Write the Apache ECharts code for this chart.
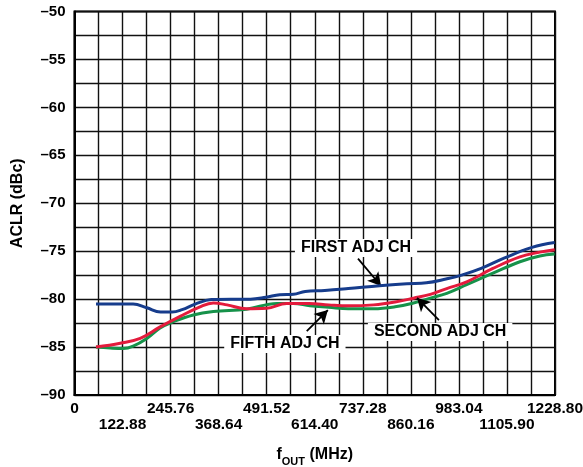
<!DOCTYPE html>
<html>
<head>
<meta charset="utf-8">
<style>html,body{margin:0;padding:0;background:#fff;}#c{width:583px;height:467px;}</style>
<script src="https://cdn.jsdelivr.net/npm/echarts@6/dist/echarts.min.js"></script>
</head>
<body>
<div id="c"></div>
<script>
// Tick labels
const xTickLabels = ['0','122.88','245.76','368.64','491.52','614.40','737.28','860.16','983.04','1105.90','1228.80'];
// Series values [fOUT MHz, ACLR dBc]
const firstAdj = [[55,-80.5],[100,-80.5],[150,-80.5],[185,-80.9],[220,-81.35],[250,-81.35],[275,-81.1],[310,-80.5],[350,-80.05],[400,-80.0],[450,-80.0],[490,-79.8],[525,-79.55],[560,-79.5],[590,-79.2],[640,-79.1],[700,-78.9],[780,-78.6],[850,-78.4],[900,-78.3],[950,-77.9],[990,-77.5],[1040,-76.8],[1100,-75.7],[1170,-74.6],[1228,-74.1]];
const secondAdj = [[55,-85.0],[117,-84.6],[168,-84.1],[219,-82.9],[270,-81.8],[321,-80.8],[355,-80.4],[390,-80.6],[440,-81.0],[491,-80.95],[543,-80.45],[600,-80.45],[650,-80.6],[700,-80.7],[765,-80.6],[820,-80.3],[867,-79.9],[910,-79.5],[952,-78.9],[1003,-78.2],[1070,-76.8],[1139,-75.6],[1190,-75.1],[1228,-74.85]];
const fifthAdj = [[55,-85.0],[91,-85.1],[125,-85.15],[150,-84.9],[185,-84.1],[219,-83.0],[253,-82.35],[304,-81.65],[355,-81.3],[440,-81.05],[518,-80.45],[559,-80.45],[602,-80.7],[650,-80.85],[700,-81.0],[765,-81.0],[820,-80.8],[867,-80.4],[910,-79.9],[952,-79.4],[1003,-78.5],[1070,-77.3],[1139,-76.1],[1190,-75.5],[1228,-75.3]];
// Annotation labels and arrows in data coordinates
const annoLabels = [
  {text:'FIRST ADJ CH', at:[720,-74.67]},
  {text:'SECOND ADJ CH', at:[935,-83.43]},
  {text:'FIFTH ADJ CH', at:[538,-84.68]}
];
const annoArrows = [
  [[725,-75.77],[784,-78.63]],
  [[932,-82.18],[876,-79.88]],
  [[594,-83.33],[648,-81.14]]
];

const FONT = '"Liberation Sans", Arial, Helvetica, sans-serif';
const chart = echarts.init(document.getElementById('c'), null, {renderer:'canvas'});
const step = 61.44;
chart.setOption({
  animation:false,
  backgroundColor:'#fff',
  grid:{left:74.5, top:11.5, right:28, bottom:72, show:true, borderColor:'#000', borderWidth:2, outerBoundsMode:'none', containLabel:false},
  xAxis:{
    type:'value', min:0, max:1228.8, interval:step,
    axisLine:{show:true, lineStyle:{color:'#000', width:2}},
    axisTick:{show:false},
    splitLine:{show:true, lineStyle:{color:'#111', width:1.4}},
    axisLabel:{
      margin:6, color:'#000', fontSize:15.5, fontWeight:'bold', fontFamily:FONT, lineHeight:16,
      showMinLabel:true, showMaxLabel:true, hideOverlap:false,
      formatter:function(v){
        const i = Math.round(v/step);
        if(i%2!==0) return '';
        const k = i/2;
        return (k%2===0 ? '' : '\n') + xTickLabels[k];
      }
    },
    name:'{a|f}{s|OUT}{a| (MHz)}', nameLocation:'middle', nameGap:50,
    nameTextStyle:{rich:{
      a:{fontSize:16, fontWeight:'bold', fontFamily:FONT, color:'#000', verticalAlign:'bottom', lineHeight:18},
      s:{fontSize:11, fontWeight:'bold', fontFamily:FONT, color:'#000', verticalAlign:'bottom', lineHeight:14, padding:[0,0,-4,0]}
    }}
  },
  yAxis:{
    type:'value', min:-90, max:-50, interval:2.5,
    axisLine:{show:true, lineStyle:{color:'#000', width:2}},
    axisTick:{show:false},
    splitLine:{show:true, lineStyle:{color:'#111', width:1.4}},
    axisLabel:{
      margin:9, color:'#000', fontSize:15, fontWeight:'bold', fontFamily:FONT,
      formatter:function(v){ return (Math.abs(v%5)<1e-6) ? '\u2013'+Math.abs(v) : ''; }
    },
    name:'ACLR (dBc)', nameLocation:'middle', nameGap:49, nameRotate:90,
    nameTextStyle:{fontSize:16, fontWeight:'bold', fontFamily:FONT, color:'#000'}
  },
  series:[
    {name:'FIFTH ADJ CH', type:'line', data:fifthAdj, smooth:0.4, showSymbol:false, lineStyle:{color:'#16924a', width:3}, z:3},
    {name:'SECOND ADJ CH', type:'line', data:secondAdj, smooth:0.4, showSymbol:false, lineStyle:{color:'#e31b3c', width:3}, z:4},
    {name:'FIRST ADJ CH', type:'line', data:firstAdj, smooth:0.4, showSymbol:false, lineStyle:{color:'#163c8c', width:3}, z:5,
      markPoint:{
        silent:true, symbol:'rect', symbolSize:1, itemStyle:{color:'rgba(0,0,0,0)'},
        label:{show:true, position:'inside', color:'#000', fontSize:16, fontWeight:'bold', fontFamily:FONT,
          backgroundColor:'#fff', padding:[1,6,1,6], formatter:function(p){return p.name;}},
        data: annoLabels.map(a=>({name:a.text, coord:a.at}))
      },
      markLine:{
        silent:true, symbol:['none','arrow'], symbolSize:[11,13], animation:false,
        lineStyle:{color:'#000', width:1.8, type:'solid'}, label:{show:false},
        data: annoArrows.map(a=>[{coord:a[0]},{coord:a[1]}])
      }
    }
  ]
});
</script>
</body>
</html>
